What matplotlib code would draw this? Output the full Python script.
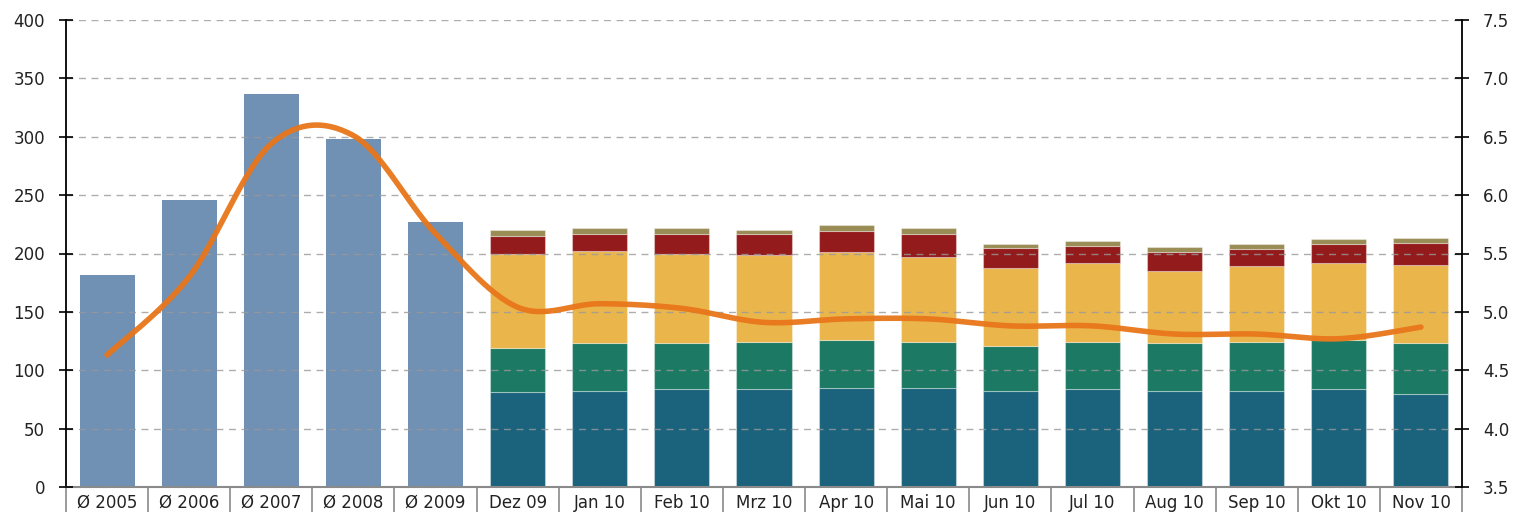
import numpy as np
import matplotlib

matplotlib.use("Agg")
import matplotlib.pyplot as plt

# --- data -------------------------------------------------------------
categories = ["Ø 2005", "Ø 2006", "Ø 2007", "Ø 2008", "Ø 2009",
              "Dez 09", "Jan 10", "Feb 10", "Mrz 10", "Apr 10", "Mai 10",
              "Jun 10", "Jul 10", "Aug 10", "Sep 10", "Okt 10", "Nov 10"]

# yearly averages (single bars)
avg_totals = [182, 246, 337, 298, 227]

# monthly stacked segments (bottom -> top)
seg_blue = [81.2, 82.4, 83.8, 83.8, 84.7, 84.7, 82.1, 83.8, 82.1, 82.1, 83.8, 79.8]
seg_green = [38.0, 40.7, 39.3, 40.8, 41.3, 39.9, 38.5, 40.8, 41.0, 42.5, 42.2, 43.3]
seg_yellow = [80.3, 79.3, 76.7, 73.8, 75.0, 72.4, 67.0, 67.0, 61.9, 64.4, 65.6, 67.3]
seg_red = [15.2, 14.0, 16.6, 18.0, 18.0, 19.4, 17.4, 14.8, 16.0, 14.5, 16.2, 18.8]
seg_olive = [5.3, 5.1, 5.1, 3.6, 5.3, 5.1, 3.0, 4.3, 4.2, 4.5, 4.2, 4.3]

# right-axis line
line_vals = [4.63, 5.30, 6.44, 6.51, 5.67, 5.04, 5.07, 5.03, 4.91, 4.94,
             4.94, 4.88, 4.88, 4.81, 4.81, 4.77, 4.87]

left_ticks = [0, 50, 100, 150, 200, 250, 300, 350, 400]
right_ticks = [3.5, 4.0, 4.5, 5.0, 5.5, 6.0, 6.5, 7.0, 7.5]


def smooth_curve(xs, ys, n=30):
    """Excel-style smoothed line (cubic Bezier through the points)."""
    pts = np.column_stack([xs, ys]).astype(float)
    out = [pts[0]]
    t = np.linspace(0, 1, n)[1:, None]
    for i in range(len(pts) - 1):
        p0 = pts[max(i - 1, 0)]
        p1, p2 = pts[i], pts[i + 1]
        p3 = pts[min(i + 2, len(pts) - 1)]
        c1 = p1 + (p2 - p0) / 6
        c2 = p2 - (p3 - p1) / 6
        seg = ((1 - t) ** 3) * p1 + 3 * ((1 - t) ** 2) * t * c1 \
            + 3 * (1 - t) * t ** 2 * c2 + t ** 3 * p2
        out.extend(seg)
    out = np.array(out)
    return out[:, 0], out[:, 1]


# --- figure -----------------------------------------------------------
fig = plt.figure(figsize=(15.13, 5.12), dpi=100)
ax = fig.add_axes([66 / 1513, 25 / 512, 1396 / 1513, 467 / 512])

x = np.arange(len(categories))
width = 0.67
n_avg = len(avg_totals)
xm = x[n_avg:]

ax.bar(x[:n_avg], avg_totals, width, color="#7090b4", zorder=2)

colors = ["#1b637c", "#1c7a64", "#eab64c", "#941b1c", "#9a8c55"]
bottom = np.zeros(len(xm))
for seg, c in zip([seg_blue, seg_green, seg_yellow, seg_red, seg_olive], colors):
    ax.bar(xm, seg, width, bottom=bottom, color=c, edgecolor=(1, 1, 1, 0.35),
           linewidth=0.8, zorder=2)
    bottom += np.array(seg)

ax.set_ylim(0, 400)
ax.set_xlim(-0.5, len(categories) - 0.5)
ax.set_yticks(left_ticks)
ax.yaxis.grid(True, linestyle=(0, (5, 4)), color="#999999", linewidth=1.0,
              alpha=0.8, zorder=3)
ax.set_axisbelow(False)

# category separators below the axis, labels at centres
ax.set_xticks(np.arange(len(categories) + 1) - 0.5)
ax.set_xticklabels([])
ax.set_xticks(x, minor=True)
ax.set_xticklabels(categories, minor=True)
ax.tick_params(axis="x", which="major", length=30, width=1.2, color="#8a8a8a",
               direction="out")
ax.tick_params(axis="x", which="minor", length=0, pad=5, labelsize=12,
               labelcolor="#222222")
ax.tick_params(axis="y", direction="inout", length=10, width=1.2,
               labelsize=12, pad=10, labelcolor="#222222")

for s in ["top", "right"]:
    ax.spines[s].set_visible(False)
ax.spines["left"].set_linewidth(1.3)
ax.spines["bottom"].set_color("#8a8a8a")
ax.spines["bottom"].set_linewidth(1.5)

ax2 = ax.twinx()
ax2.set_ylim(3.5, 7.5)
ax2.set_yticks(right_ticks)
ax2.set_yticklabels([f"{v:.1f}" for v in right_ticks])
ax2.tick_params(axis="y", direction="inout", length=10, width=1.2,
                labelsize=12, pad=10, labelcolor="#222222")
for s in ["top", "left", "bottom"]:
    ax2.spines[s].set_visible(False)
ax2.spines["right"].set_linewidth(1.3)

sx, sy = smooth_curve(x, line_vals)
ax2.plot(sx, sy, color="#e8761a", linewidth=4, solid_capstyle="round",
         alpha=0.95, zorder=4)

fig.savefig("out.png", dpi=100)
plt.close(fig)
